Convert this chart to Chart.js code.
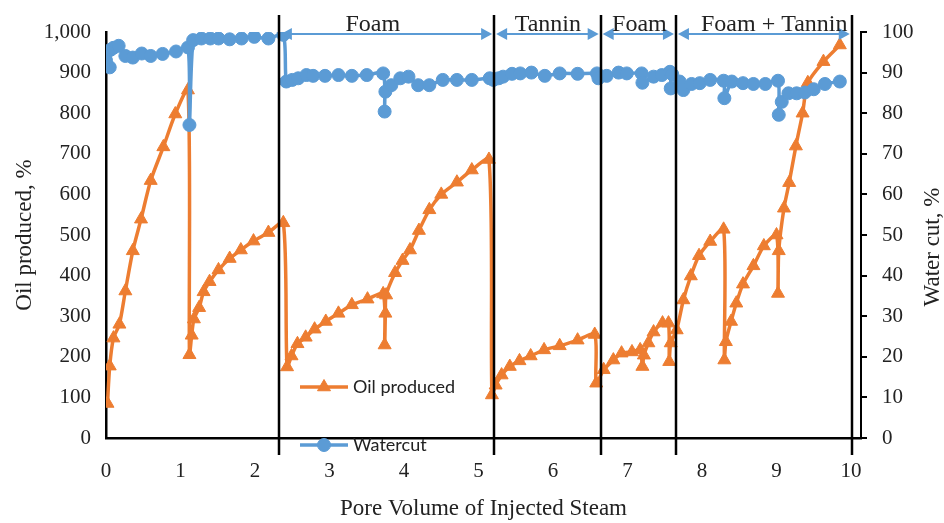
<!DOCTYPE html>
<html>
<head>
	<meta charset="utf-8">
	<title>Oil produced and water cut</title>
	<script src="https://cdn.jsdelivr.net/npm/chart.js@4.4.0/dist/chart.umd.min.js"></script>
	<style>
		body { margin: 0; background: #fff; }
		#wrap { width: 944px; height: 523px; }
	</style>
</head>
<body>
	<div id="wrap">
		<canvas id="chart"></canvas>
	</div>

	<script type="text/javascript">

		// oil produced, % (left axis)
		var oilX = [0.02, 0.05, 0.10, 0.18, 0.26, 0.36, 0.47, 0.60, 0.77, 0.93, 1.10,
			1.12, 1.15, 1.18, 1.25, 1.31, 1.39, 1.51, 1.66, 1.81, 1.98, 2.18, 2.38,
			2.43, 2.49, 2.57, 2.68, 2.80, 2.95, 3.12, 3.30, 3.51, 3.72, 3.74, 3.75, 3.76,
			3.88, 3.98, 4.08, 4.20, 4.34, 4.50, 4.71, 4.91, 5.14,
			5.18, 5.23, 5.31, 5.42, 5.55, 5.70, 5.88, 6.09, 6.33, 6.56,
			6.58, 6.68, 6.81, 6.92, 7.06, 7.17, 7.20, 7.22, 7.28, 7.35, 7.47, 7.55,
			7.56, 7.58, 7.66, 7.75, 7.85, 7.96, 8.11, 8.29,
			8.30, 8.32, 8.39, 8.46, 8.55, 8.69, 8.83, 9.00,
			9.02, 9.03, 9.10, 9.17, 9.26, 9.35, 9.42, 9.63, 9.85];
		var oilY = [85, 177, 246, 280, 362, 461, 539, 634, 717, 798, 857,
			205, 253, 293, 321, 360, 385, 414, 442, 463, 485, 506, 530,
			175, 202, 232, 248, 268, 287, 307, 328, 342, 355, 229, 307, 352,
			407, 437, 463, 511, 562, 600, 630, 660, 686,
			106, 130, 155, 176, 190, 202, 217, 227, 241, 255,
			135, 168, 192, 209, 212, 217, 176, 204, 234, 261, 283, 283,
			188, 234, 266, 340, 399, 449, 484, 514,
			192, 237, 287, 332, 379, 424, 473, 500,
			356, 461, 566, 629, 719, 800, 875, 927, 968];

		// water cut, % (right axis)
		var wcX = [0.00, 0.05, 0.06, 0.10, 0.17, 0.26, 0.36, 0.48, 0.60, 0.76, 0.94, 1.10,
			1.12, 1.17, 1.28, 1.40, 1.51, 1.66, 1.82, 1.99, 2.18, 2.38,
			2.42, 2.50, 2.58, 2.69, 2.78, 2.94, 3.12, 3.30, 3.50, 3.72,
			3.74, 3.75, 3.83, 3.95, 4.06, 4.19, 4.34, 4.52, 4.71, 4.91, 5.15,
			5.20, 5.27, 5.33, 5.45, 5.56, 5.71, 5.89, 6.09, 6.33, 6.59,
			6.61, 6.72, 6.88, 6.99, 7.19, 7.20, 7.35, 7.46, 7.57,
			7.58, 7.60, 7.70, 7.75, 7.86, 7.97, 8.11, 8.29, 8.30, 8.40, 8.55, 8.69, 8.85, 9.02,
			9.03, 9.07, 9.16, 9.27, 9.38, 9.50, 9.65, 9.85];
		var wcY = [93.0, 91.3, 95.6, 96.1, 96.6, 94.1, 93.7, 94.7, 94.1, 94.6, 95.2, 96.2,
			77.1, 98.0, 98.4, 98.4, 98.4, 98.2, 98.4, 98.8, 98.4, 99.3,
			87.8, 88.2, 88.6, 89.4, 89.2, 89.2, 89.4, 89.2, 89.4, 89.8,
			80.4, 85.3, 86.9, 88.6, 89.0, 86.9, 86.9, 88.2, 88.2, 88.2, 88.6,
			88.2, 88.6, 89.0, 89.7, 89.8, 90.0, 89.2, 89.8, 89.7, 89.8,
			88.6, 89.2, 90.0, 89.8, 89.8, 87.5, 89.0, 89.4, 90.2,
			86.1, 89.6, 87.8, 85.7, 87.2, 87.4, 88.2, 88.0, 83.7, 87.8, 87.4, 87.2, 87.2, 88.0,
			79.6, 82.8, 84.9, 84.9, 85.1, 85.9, 87.2, 87.8];

		var xTicks = [0, 1, 2, 3, 4, 5, 6, 7, 8, 9, 10];

		// injection stages
		var phaseBounds = [2.32, 5.21, 6.64, 7.65, 10.01];
		var phaseNames = ['Foam', 'Tannin', 'Foam', 'Foam + Tannin'];
		var phaseLabelX = [3.58, 5.93, 7.16, 8.97];

		var serif = "'Liberation Serif', 'Times New Roman', serif";
		var textColor = '#222';
		var orange = '#ED7D31';
		var blue = '#5B9BD5';

		function toPoints(xs, ys) {
			var pts = [];
			for (var i = 0; i < xs.length; i++) {
				pts.push({ x: xs[i], y: ys[i] });
			}
			return pts;
		}

		function arrowHead(ctx, tipX, y, dir) {
			ctx.beginPath();
			ctx.moveTo(tipX, y);
			ctx.lineTo(tipX - dir * 11, y - 6);
			ctx.lineTo(tipX - dir * 11, y + 6);
			ctx.closePath();
			ctx.fill();
		}

		var phasePlugin = {
			id: 'phases',
			afterDatasetsDraw: function(chart) {
				var ctx = chart.ctx;
				var x = chart.scales.x, y = chart.scales.y, y2 = chart.scales.y2;
				ctx.save();

				// stage boundaries
				ctx.strokeStyle = '#000';
				ctx.lineWidth = 2.5;
				var top = y.getPixelForValue(1042), bot = y.getPixelForValue(-42);
				phaseBounds.forEach(function(b) {
					var px = Math.round(x.getPixelForValue(b));
					ctx.beginPath();
					ctx.moveTo(px, top);
					ctx.lineTo(px, bot);
					ctx.stroke();
				});

				// double arrows + names
				var ay = y2.getPixelForValue(99.5);
				ctx.strokeStyle = blue;
				ctx.fillStyle = blue;
				ctx.lineWidth = 2;
				for (var i = 0; i < phaseNames.length; i++) {
					var a = x.getPixelForValue(phaseBounds[i]) + 2;
					var b = x.getPixelForValue(phaseBounds[i + 1]) - 2;
					ctx.beginPath();
					ctx.moveTo(a + 8, ay);
					ctx.lineTo(b - 8, ay);
					ctx.stroke();
					arrowHead(ctx, a, ay, -1);
					arrowHead(ctx, b, ay, 1);
				}

				ctx.fillStyle = textColor;
				ctx.font = '24px ' + serif;
				ctx.textAlign = 'center';
				ctx.textBaseline = 'alphabetic';
				for (var j = 0; j < phaseNames.length; j++) {
					ctx.fillText(phaseNames[j], x.getPixelForValue(phaseLabelX[j]), ay - 3);
				}
				ctx.restore();
			},
			afterDraw: function(chart) {
				var ctx = chart.ctx;
				var area = chart.chartArea;
				ctx.save();

				// right axis title, reading bottom to top
				ctx.fillStyle = textColor;
				ctx.font = '23px ' + serif;
				ctx.textAlign = 'center';
				ctx.textBaseline = 'middle';
				ctx.translate(chart.width - 11, (area.top + area.bottom) / 2 + 12);
				ctx.rotate(-Math.PI / 2);
				ctx.fillText('Water cut, %', 0, 0);
				ctx.setTransform(1, 0, 0, 1, 0, 0);

				// legend, placed like the original one
				var rows = [387, 445];
				chart.data.datasets.forEach(function(ds, i) {
					var ly = rows[i];
					ctx.strokeStyle = ds.borderColor;
					ctx.lineWidth = ds.borderWidth;
					ctx.beginPath();
					ctx.moveTo(300, ly);
					ctx.lineTo(348, ly);
					ctx.stroke();
					ctx.fillStyle = ds.pointBackgroundColor;
					ctx.strokeStyle = ds.pointBorderColor;
					ctx.lineWidth = 1;
					Chart.helpers.drawPoint(ctx, { pointStyle: ds.pointStyle, radius: ds.pointRadius, rotation: 0, borderWidth: 1 }, 324, ly);
					ctx.fillStyle = textColor;
					ctx.font = '18px Lato, sans-serif';
					ctx.textAlign = 'left';
					ctx.textBaseline = 'middle';
					ctx.fillText(ds.label, 353, ly);
				});
				ctx.restore();
			}
		};

		var config = {
			type: 'line',
			data: {
				datasets: [
					{
						label: 'Oil produced',
						data: toPoints(oilX, oilY),
						yAxisID: 'y',
						borderColor: orange,
						backgroundColor: orange,
						pointBackgroundColor: orange,
						pointBorderColor: orange,
						pointStyle: 'triangle',
						pointRadius: 7.5,
						pointBorderWidth: 1,
						borderWidth: 3.5,
						tension: 0.25,
						fill: false,
						order: 2
					},
					{
						label: 'Watercut',
						data: toPoints(wcX, wcY),
						yAxisID: 'y2',
						borderColor: blue,
						backgroundColor: blue,
						pointBackgroundColor: blue,
						pointBorderColor: blue,
						pointStyle: 'circle',
						pointRadius: 6.5,
						pointBorderWidth: 1,
						borderWidth: 3.5,
						tension: 0.25,
						fill: false,
						order: 1
					}
				]
			},
			options: {
				responsive: true,
				maintainAspectRatio: false,
				animation: false,
				layout: { padding: { top: 32, left: 0, right: 0, bottom: 0 } },
				plugins: {
					legend: { display: false },
					tooltip: { enabled: false }
				},
				scales: {
					x: {
						type: 'linear',
						min: 0,
						max: 10.134,
						afterBuildTicks: function(scale) {
							scale.ticks = xTicks.map(function(v) { return { value: v }; });
						},
						afterFit: function(scale) { scale.height = 85; },
						grid: { display: false, drawTicks: false },
						border: { display: true, color: '#000', width: 2.5 },
						ticks: { color: textColor, font: { family: serif, size: 21 }, padding: 21, maxRotation: 0, autoSkip: false },
						title: {
							display: true,
							text: 'Pore Volume of Injected Steam',
							color: textColor,
							font: { family: serif, size: 23, lineHeight: 1 },
							padding: { top: 0, bottom: 3 }
						}
					},
					y: {
						position: 'left',
						min: 0,
						max: 1000,
						afterFit: function(scale) { scale.width = 106; },
						grid: { display: false, drawTicks: false },
						border: { display: true, color: '#000', width: 2.5 },
						ticks: {
							stepSize: 100,
							padding: 15,
							color: textColor,
							font: { family: serif, size: 21 },
							callback: function(v) { return v.toLocaleString('en-US'); }
						},
						title: {
							display: true,
							text: 'Oil produced, %',
							color: textColor,
							font: { family: serif, size: 23, lineHeight: 1 },
							padding: { top: 13, bottom: 0 }
						}
					},
					y2: {
						position: 'right',
						min: 0,
						max: 100,
						afterFit: function(scale) { scale.width = 83; },
						grid: { display: true, drawOnChartArea: false, drawTicks: true, tickLength: 6, color: '#000', lineWidth: 2 },
						border: { display: true, color: '#000', width: 2 },
						ticks: { stepSize: 10, padding: 15, color: textColor, font: { family: serif, size: 21 } },
						title: { display: false }
					}
				}
			},
			plugins: [phasePlugin]
		};

		var ctx = document.getElementById('chart').getContext('2d');
		var chart = new Chart(ctx, config);

	</script>
</body>
</html>
